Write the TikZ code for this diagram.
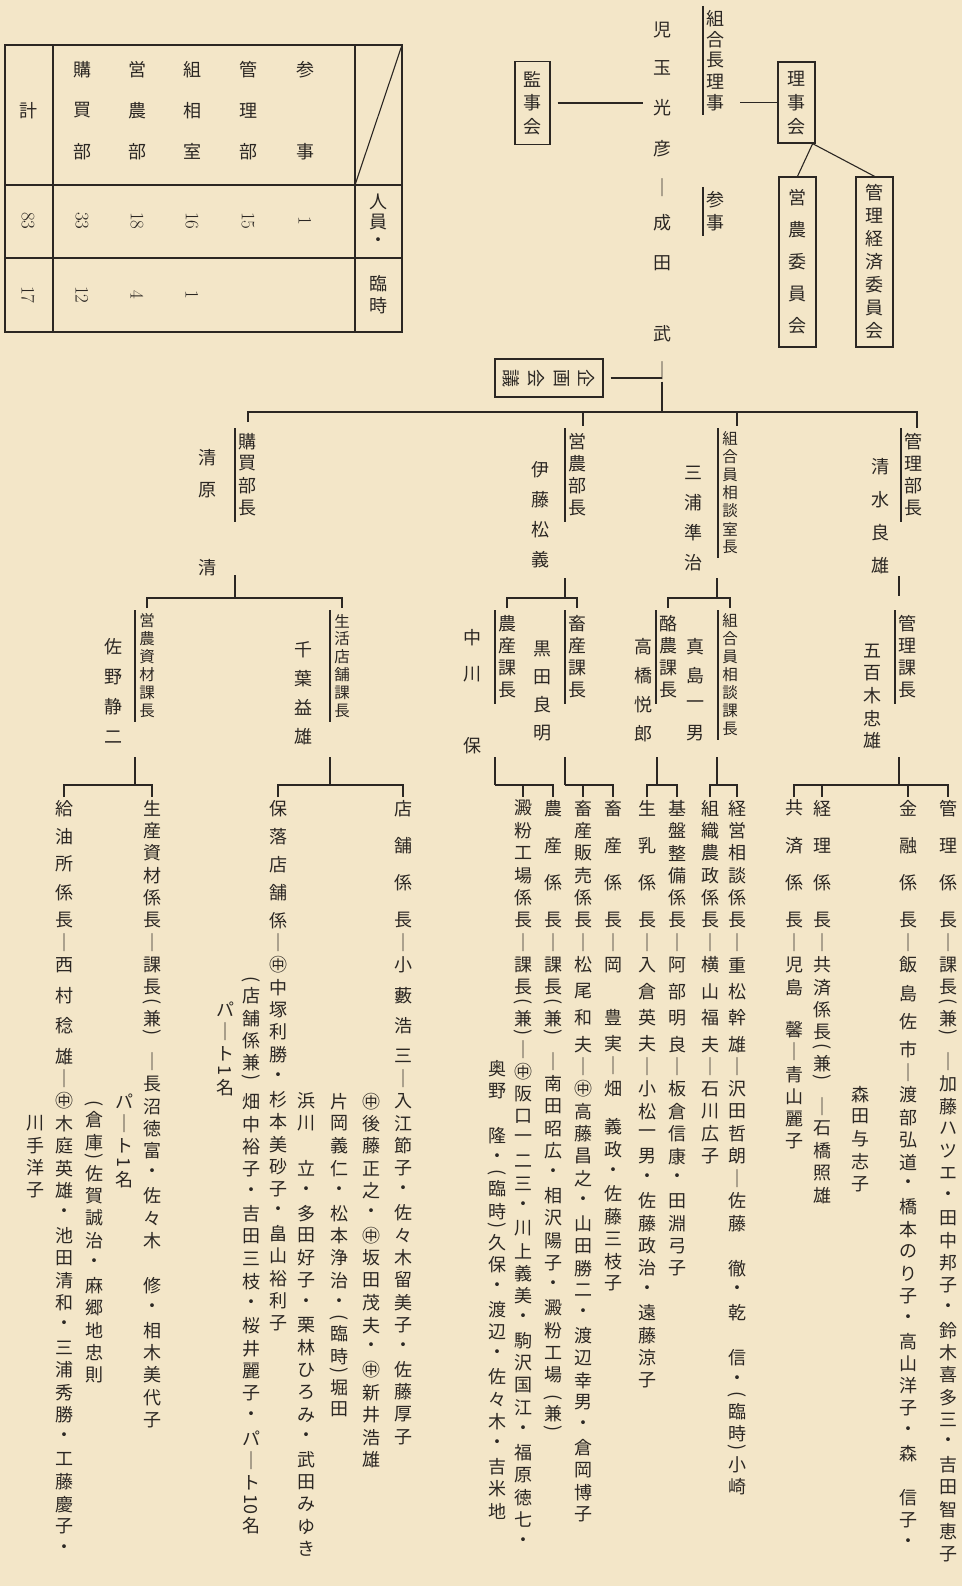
\documentclass[tikz,border=0pt]{standalone}
\usepackage{fontspec}
\usepackage{graphicx}
\setmainfont{Noto Sans CJK JP}
\newfontfamily\lmr{Latin Modern Roman}
\definecolor{paper}{HTML}{F3E6C8}
\definecolor{ink}{HTML}{2B2723}
\newdimen\Vp \newdimen\Vw \Vw=22pt
\def\Vend{VEND}\def\K{KK}\def\D{DD}
\def\Vchar#1{\hbox to\Vw{\hss\vbox to\Vp{\vss\hbox{#1}\vss}\hss}}
\def\Vrot#1{\hbox to\Vw{\hss\rotatebox[origin=c]{-90}{#1}\hss}}
\def\Vloop#1{%
  \ifx\Vend#1\let\Vnext\relax
  \else\ifx\K#1\let\Vnext\VloopK
  \else\ifx\D#1\let\Vnext\VloopD
  \else\ifx(#1\Vrot{(}\let\Vnext\Vloop
  \else\ifx)#1\Vrot{)}\let\Vnext\Vloop
  \else\Vchar{#1}\let\Vnext\Vloop
  \fi\fi\fi\fi\fi\Vnext}
\def\VloopK#1{\kern#1\relax\Vloop}
\def\VloopD#1{\Vrot{#1}\Vloop}
\newcommand\Vt[2][22.4pt]{\vbox{\offinterlineskip\Vp=#1\relax\Vloop#2\Vend}}
\newcommand\vcol[4][22.4pt]{\node[vtext] (#2) at (#3) {\Vt[#1]{#4}};}
\newcommand\vcols[4][18pt]{\node[vtext,font=\fontsize{15.5}{16}\selectfont] (#2) at (#3) {\Vt[#1]{#4}};}
\newcommand\tline[1]{\draw ([xshift=-1pt,yshift=2pt]#1.north west) -- ([xshift=-1pt,yshift=-2pt]#1.south west);}
\newcommand\vtitle[4][22.4pt]{\vcol[#1]{#2}{#3}{#4}\tline{#2}}
\newcommand\vtitles[4][18pt]{\vcols[#1]{#2}{#3}{#4}\tline{#2}}
\begin{document}
\begin{tikzpicture}[x=1pt,y=-1pt,color=ink,line width=1.1pt,
  vtext/.style={inner sep=0pt,outer sep=0pt,anchor=north,font=\fontsize{18}{18}\selectfont},
  box/.style={draw,line width=1.3pt,inner sep=0pt,font=\fontsize{18}{18}\selectfont},
  num/.style={rotate=-90,inner sep=0pt,font=\lmr\fontsize{19}{19}\selectfont}]
\fill[paper] (0,0) rectangle (962,1586);
\useasboundingbox (0,0) rectangle (962,1586);

% ---------------- table
\draw[line width=1.6pt] (5,45) rectangle (402,332);
\draw (355,45) -- (355,332);
\draw (53,45) -- (53,332);
\draw (5,185) -- (402,185);
\draw (5,258) -- (402,258);
\draw (355,185) -- (402,45);
\vcol[20pt]{h1}{378,192}{人員・}
\vcol[22pt]{h2}{378,273}{臨時}
\vcol[41pt]{r1}{305,49}{参~事}
\vcol[41pt]{r2}{248,49}{管理部}
\vcol[41pt]{r3}{192,49}{組相室}
\vcol[41pt]{r4}{137,49}{営農部}
\vcol[41pt]{r5}{82,49}{購買部}
\vcol{r6}{28,99}{計}
\node[num] (n1) at (305,221) {1};
\node[num] (n2) at (248,221) {15};
\node[num] (n3) at (192,221) {16};
\node[num] (n4) at (137,221) {18};
\node[num] (n5) at (82,221) {33};
\node[num] (n6) at (28,221) {83};
\node[num] (t3) at (192,295) {1};
\node[num] (t4) at (137,295) {4};
\node[num] (t5) at (82,295) {12};
\node[num] (t6) at (28,295) {17};

% ---------------- root
\node[box,minimum width=37,minimum height=81] (riji) at (796.5,102.5) {\Vt[24pt]{理事会}};
\node[box,minimum width=37,minimum height=170] (eino) at (797.5,262) {\Vt[32pt]{営農委員会}};
\node[box,minimum width=37,minimum height=170] (kkeizai) at (874.5,262) {\Vt[23pt]{管理経済委員会}};
\draw ([xshift=-3pt]riji.south east) -- (eino.north);
\draw ([xshift=-3pt]riji.south east) -- (kkeizai.north);
\vtitle[21pt]{kumiaicho}{715,8}{組合長理事}
\coordinate (kr) at (740,102.5);
\draw (kr) -- (riji.west);
\vtitle{sanji}{715,189}{参事}
\vcol{kodama}{662,19}{児\K{15pt}玉\K{18pt}光\K{18pt}彦\K{17pt}│\K{13pt}成\K{18pt}田\K{48pt}武\K{14pt}│}
\node[box,minimum width=35,minimum height=83] (kanji) at (532.5,103) {\Vt[24pt]{監事会}};
\coordinate (kj) at (643,103);
\draw ([xshift=7pt]kanji.east) -- (kj);
\node[box,rotate=-90,minimum width=38,minimum height=108] (kikaku) at (549,378) {\Vt[25pt]{企画会議}};
\coordinate (kk) at (662,378);
\draw ([xshift=7pt]kikaku.north) -- (kk);

% ---------------- bus
\coordinate (bus) at (662,412);
\draw (kodama.south) -- (bus);
\draw (248,422) -- (248,412) -- (917,412) -- (917,428);
\draw (737,412) -- (737,426);
\draw (583,412) -- (583,426);

% ---------------- 管理部
\vtitle{kanribucho}{913,430}{管理部長}
\vcol[33pt]{shimizu}{880,450}{清水良雄}
\draw (899,576) -- (899,596);
\vtitle{kanrikacho}{907,612}{管理課長}
\vcol{ioki}{872,640}{五百木忠雄}
\draw (899,757) -- (899,785);
\draw (794,797) -- (794,785) -- (948,785) -- (948,797);
\draw (908,785) -- (908,797);
\draw (822,785) -- (822,797);
\vcol{l1}{948,797}{管\K{14.9pt}理\K{14.9pt}係\K{14.9pt}長│課長(兼)\K{12pt}│加藤ハツエ・田中邦子・鈴木喜多三・吉田智恵子}
\vcol{l2}{908,797}{金\K{14.9pt}融\K{14.9pt}係\K{14.9pt}長│飯\K{6pt}島\K{6pt}佐\K{6pt}市│渡部弘道・橋本のり子・高山洋子・森~信子・}
\vcol{l3}{860,1083}{森田与志子}
\vcol{l4}{822,797}{経\K{14.9pt}理\K{14.9pt}係\K{14.9pt}長│共済係長(兼)\K{12pt}│石橋照雄}
\vcol{l5}{794,797}{共\K{14.9pt}済\K{14.9pt}係\K{14.9pt}長│児島\K{20pt}馨│青山麗子}

% ---------------- 組合員相談室
\vtitles{soudanshitsu}{730,430}{組合員相談室長}
\vcol[30pt]{miura}{693,458}{三浦準治}
\draw (717,578) -- (717,598);
\draw (668,608) -- (668,598) -- (730,598) -- (730,608);
\vtitles{soudanka}{730,612}{組合員相談課長}
\vcol[29pt]{majima}{695,632}{真島一男}
\vtitle{rakuno}{668,612}{酪農課長}
\vcol[29pt]{takahashi}{643,632}{高橋悦郎}
\draw (717,757) -- (717,785);
\draw (710,797) -- (710,785) -- (737,785) -- (737,797);
\draw (657,757) -- (657,785);
\draw (647,797) -- (647,785) -- (677,785) -- (677,797);
\vcol{l6}{737,797}{経営相談係長│重\K{4pt}松\K{4pt}幹\K{4pt}雄│沢田哲朗│佐藤~徹・乾~信・(臨時)小崎}
\vcol{l7}{710,797}{組織農政係長│横\K{4pt}山\K{4pt}福\K{4pt}夫│石川広子}
\vcol{l8}{677,797}{基盤整備係長│阿\K{4pt}部\K{4pt}明\K{4pt}良│板倉信康・田淵弓子}
\vcol{l9}{647,797}{生\K{14.9pt}乳\K{14.9pt}係\K{14.9pt}長│入\K{4pt}倉\K{4pt}英\K{4pt}夫│小松一男・佐藤政治・遠藤涼子}

% ---------------- 営農部
\vtitle{einobucho}{577,430}{営農部長}
\vcol[30pt]{ito}{540,455}{伊藤松義}
\draw (565,578) -- (565,598);
\draw (507,608) -- (507,598) -- (577,598) -- (577,608);
\vtitle{chikusanka}{577,612}{畜産課長}
\vcol[28pt]{kuroda}{542,635}{黒田良明}
\vtitle{nosanka}{507,612}{農産課長}
\vcol[36pt]{nakagawa}{472,620}{中川~保}
\draw (565,757) -- (565,785);
\draw (565,785) -- (613,785) -- (613,797);
\draw (583,785) -- (583,797);
\draw (495,757) -- (495,785);
\draw (495,785) -- (553,785) -- (553,797);
\draw (523,785) -- (523,797);
\vcol{l10}{613,797}{畜\K{14.9pt}産\K{14.9pt}係\K{14.9pt}長│岡\K{30pt}豊\K{4pt}実│畑\K{16pt}義政・佐藤三枝子}
\vcol{l11}{583,797}{畜産販売係長│松\K{4pt}尾\K{4pt}和\K{4pt}夫│㊥高藤昌之・山田勝二・渡辺幸男・倉岡博子}
\vcol{l12}{553,797}{農\K{14.9pt}産\K{14.9pt}係\K{14.9pt}長│課長(兼)\K{12pt}│南田昭広・相沢陽子・澱粉工場\K{8pt}(兼)}
\vcol{l13}{523,797}{澱粉工場係長│課長(兼)│㊥阪口一二三・川上義美・駒沢国江・福原徳七・}
\vcol{l14}{497,1057}{奥野~隆・(臨時)久保・渡辺・佐々木・吉米地}

% ---------------- 購買部
\vtitle{kobaibucho}{247,430}{購買部長}
\vcol[33pt]{kiyohara}{207,441}{清原}
\vcol{kiyoshi}{207,556}{清}
\draw (235,575) -- (235,598);
\draw (147,608) -- (147,598) -- (342,598) -- (342,608);
\vtitles{seikatsu}{342,612}{生活店舗課長}
\vcol[29pt]{chiba}{303,635}{千葉益雄}
\vtitles{shizai}{147,612}{営農資材課長}
\vcol[30pt]{sano}{113,632}{佐野静二}
\draw (330,757) -- (330,785);
\draw (278,797) -- (278,785) -- (403,785) -- (403,797);
\draw (135,757) -- (135,785);
\draw (64,797) -- (64,785) -- (152,785) -- (152,797);
\vcol{l15}{403,797}{店\K{14.9pt}舗\K{14.9pt}係\K{14.9pt}長│小\K{8pt}藪\K{8pt}浩\K{8pt}三│入江節子・佐々木留美子・佐藤厚子}
\vcol{l16}{371,1090}{㊥後藤正之・㊥坂田茂夫・㊥新井浩雄}
\vcol{l17}{339,1090}{片岡義仁・松本浄治・(臨時)堀田}
\vcol{l18}{306,1090}{浜川~立・多田好子・栗林ひろみ・武田みゆき}
\vcol{l19}{278,797}{保\K{5.6pt}落\K{5.6pt}店\K{5.6pt}舗\K{5.6pt}係│㊥中塚利勝・杉本美砂子・畠山裕利子}
\vcol{l20}{251,976}{(店舗係兼)\K{8pt}畑中裕子・吉田三枝・桜井麗子・パ｜ト\D{10}名}
\vcol{l21}{225,998}{パ｜ト\D{1}名}
\vcol{l22}{152,797}{生産資材係長│課長(兼)\K{12pt}│長沼徳富・佐々木~修・相木美代子}
\vcol{l23}{124,1090}{パ｜ト\D{1}名}
\vcol{l24}{94,1100}{(倉庫)佐賀誠治・麻郷地忠則}
\vcol{l25}{64,797}{給\K{5.6pt}油\K{5.6pt}所\K{5.6pt}係\K{5.6pt}長│西\K{8pt}村\K{8pt}稔\K{8pt}雄│㊥木庭英雄・池田清和・三浦秀勝・工藤慶子・}
\vcol{l26}{35,1112}{川手洋子}
\end{tikzpicture}
\end{document}
